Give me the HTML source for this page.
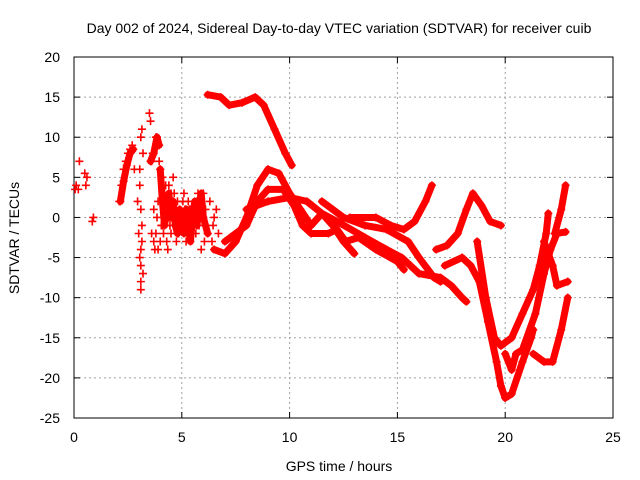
<!DOCTYPE html>
<html><head><meta charset="utf-8"><style>
body{margin:0;background:#fff}
svg{display:block;font-family:"Liberation Sans",sans-serif}
</style></head><body>
<svg id="chart" width="640" height="480" xmlns="http://www.w3.org/2000/svg">
<text x="339" y="33" font-size="14" text-anchor="middle" fill="#000">Day 002 of 2024, Sidereal Day-to-day VTEC variation (SDTVAR) for receiver cuib</text>
<g id="grid"></g>
<g id="axes"></g>
<g id="marks"></g>
<text x="339" y="471" font-size="14" text-anchor="middle">GPS time / hours</text>
<text transform="translate(19,238) rotate(-90)" font-size="14" text-anchor="middle">SDTVAR / TECUs</text>
</svg>
<script>
const xTicks=[0,5,10,15,20,25];
const yTicks=[20,15,10,5,0,-5,-10,-15,-20,-25];
const tracks=[
[[6.2,15.3],[6.8,15],[7.2,14],[7.8,14.3],[8.4,15],[8.8,14],[9.3,11],[9.8,8],[10.1,6.5]],
[[6.5,-4],[7,-4.5],[7.5,-3],[8,0],[8.5,4],[9,6],[9.5,5.5],[10,3],[10.5,1],[11,-1],[11.5,0.5],[12,-1],[12.5,-3],[13,-4.5]],
[[7,-3],[8,-1],[8.5,2],[9,3.5],[9.7,3.5],[10.2,1.5],[10.6,-1],[11,-2],[11.8,-2],[12.2,-1.5],[12.6,-3],[13.2,-2.5],[14,-4],[15,-5.5],[15.3,-6.5]],
[[8,1],[9,2],[10,2.5],[10.8,2],[11.5,0.5],[12.2,-0.5],[13.5,-2.5],[14.5,-4],[15.2,-5],[16,-7],[17,-7.5],[17.5,-8.5],[18,-10],[18.2,-10.5]],
[[11.5,2],[12.5,0],[13.5,-1],[14.5,-1.5],[15.5,-3],[16,-5],[16.7,-7.5],[17,-8]],
[[12.8,0],[14,0],[14.7,-1],[15.3,-1.5],[15.8,-0.5],[16.3,2],[16.6,4]],
[[16.8,-4],[17.3,-3.5],[17.8,-2],[18.2,1],[18.5,3],[18.9,1.5],[19.3,-0.5],[19.8,-1]],
[[17.2,-6],[18,-5],[18.4,-6],[18.8,-8],[19.2,-13],[19.6,-18],[19.8,-21],[20,-22.5],[20.3,-22],[20.8,-18],[21.2,-15],[21.3,-14]],
[[18.7,-3],[19.1,-10],[19.5,-15],[19.8,-16],[20.3,-15],[20.8,-12],[21.3,-9],[21.6,-6],[21.9,-2],[22,0.5]],
[[20,-17],[20.3,-19],[20.5,-17],[20.8,-16.5],[21.4,-12],[21.8,-7],[22.1,-4],[22.4,-2],[22.8,-1.8]],
[[21.3,-17],[21.8,-18],[22.2,-18],[22.6,-14],[22.9,-10]],
[[21.8,-3],[22.2,-6],[22.4,-8.5],[22.9,-8]],
[[22.3,-2],[22.6,1],[22.8,4]],
[[2.15,2],[2.3,4.5],[2.45,6.5],[2.6,8],[2.75,8.5]],
[[3.55,7],[3.7,8],[3.85,10],[3.95,9]],
[[4.0,6],[4.1,2],[4.2,-1],[4.3,1],[4.4,3],[4.5,0],[4.6,2],[4.7,-1],[4.8,-2],[4.9,1],[5.0,0],[5.1,-2],[5.2,1],[5.3,-1],[5.4,-3],[5.5,0],[5.6,2],[5.7,-1],[5.8,1],[5.9,3],[6.0,0],[6.2,-2]]
];
const scatterX=[0.05,0.1,0.2,0.25,0.5,0.55,0.6,0.85,0.9,2.1,2.2,2.3,2.4,2.5,2.6,2.7,2.8,2.95,3.0,3.05,3.1,3.1,3.15,3.2,3.2,3.05,3.1,3.15,3.5,3.55,3.6,3.65,3.7,3.8,3.8,3.9,3.9,4.0,4.0,4.1,4.1,4.2,4.2,4.3,4.3,4.4,4.4,4.5,4.5,4.6,4.6,4.7,4.8,4.9,5.0,5.1,5.2,5.3,5.4,5.5,5.6,5.7,5.8,5.9,6.0,6.1,6.2,6.3,6.4,6.5,6.6,6.7,3.95,4.05,4.25,4.35,4.55,4.75,5.15,5.45,5.75,6.05,3.6,3.7,3.75,3.85,3.9,4.15,4.45,4.65,4.85,5.05,5.25,5.35,5.65,5.85,6.45,3.1,3.1,3.15,3.05,3.1];
const scatterY=[3.5,4,3.5,7,5.5,4,5,-0.5,0,2,4,6,7,8,8.5,9,6,2,-2,-5,-9,10,11,8,-7,4,1,-3,13,12,7,8,1,10,-2,9,-4,6,-3,5,-1,3,1,2,-3,4,0,3,-2,5,1,-1,2,0,-1,3,-3,2,1,-2,0,2,-1,-4,3,1,-2,2,-3,0,1,-2,7,-1,4,-4,2,-3,1,-1,3,-3,-2,-3,-4,0,2,-2,-1,3,-2,2,-1,1,-2,1,-1,-6,-8,-1,6,-4];
const X=v=>74+(v/25)*539, Y=v=>57+((20-v)/45)*361;
const NS="http://www.w3.org/2000/svg";
const mk=(t,a,p)=>{const e=document.createElementNS(NS,t);for(const k in a)e.setAttribute(k,a[k]);p.appendChild(e);return e;};
const grid=document.getElementById('grid'),axes=document.getElementById('axes'),marks=document.getElementById('marks');
xTicks.forEach(t=>{
 if(t>0&&t<25){const g=mk('line',{x1:X(t),x2:X(t),y1:57,y2:418,stroke:'#a0a0a0','stroke-dasharray':'2,3'},grid);
 
 }
 const l=mk('text',{x:X(t),y:442,'font-size':14,'text-anchor':'middle'},axes);l.textContent=t;
 
 
 mk('line',{x1:X(t),x2:X(t),y1:418,y2:412,stroke:'#000'},axes);mk('line',{x1:X(t),x2:X(t),y1:57,y2:63,stroke:'#000'},axes);
});
yTicks.forEach(t=>{
 if(t<20&&t>-25){const g=mk('line',{x1:74,x2:613,y1:Y(t),y2:Y(t),stroke:'#a0a0a0','stroke-dasharray':'2,3'},grid);
 
 }
 const l=mk('text',{x:60,y:Y(t)+5,'font-size':14,'text-anchor':'end'},axes);l.textContent=t;
 
 
 mk('line',{x1:74,x2:80,y1:Y(t),y2:Y(t),stroke:'#000'},axes);mk('line',{x1:613,x2:607,y1:Y(t),y2:Y(t),stroke:'#000'},axes);
});
const fr=mk('rect',{x:74,y:57,width:539,height:361,fill:'none',stroke:'#000'},axes);


function plus(x,y,p){mk('path',{d:`M${x-4} ${y}h8M${x} ${y-4}v8`,stroke:'#f00','stroke-width':1.6,fill:'none'},p);}
tracks.forEach(tr=>{
 const pl=mk('polyline',{points:tr.map(p=>X(p[0])+','+Y(p[1])).join(' '),fill:'none',stroke:'#f00','stroke-width':7,'stroke-linejoin':'round','stroke-linecap':'round'},marks);
 
 
 tr.forEach(p=>plus(X(p[0]),Y(p[1]),marks));
});
scatterX.forEach((v,i)=>{
 const g=mk('path',{d:`M${X(v)-4} ${Y(scatterY[i])}h8M${X(v)} ${Y(scatterY[i])-4}v8`,stroke:'#f00','stroke-width':1.6},marks);
 
 
});
</script>
</body></html>
